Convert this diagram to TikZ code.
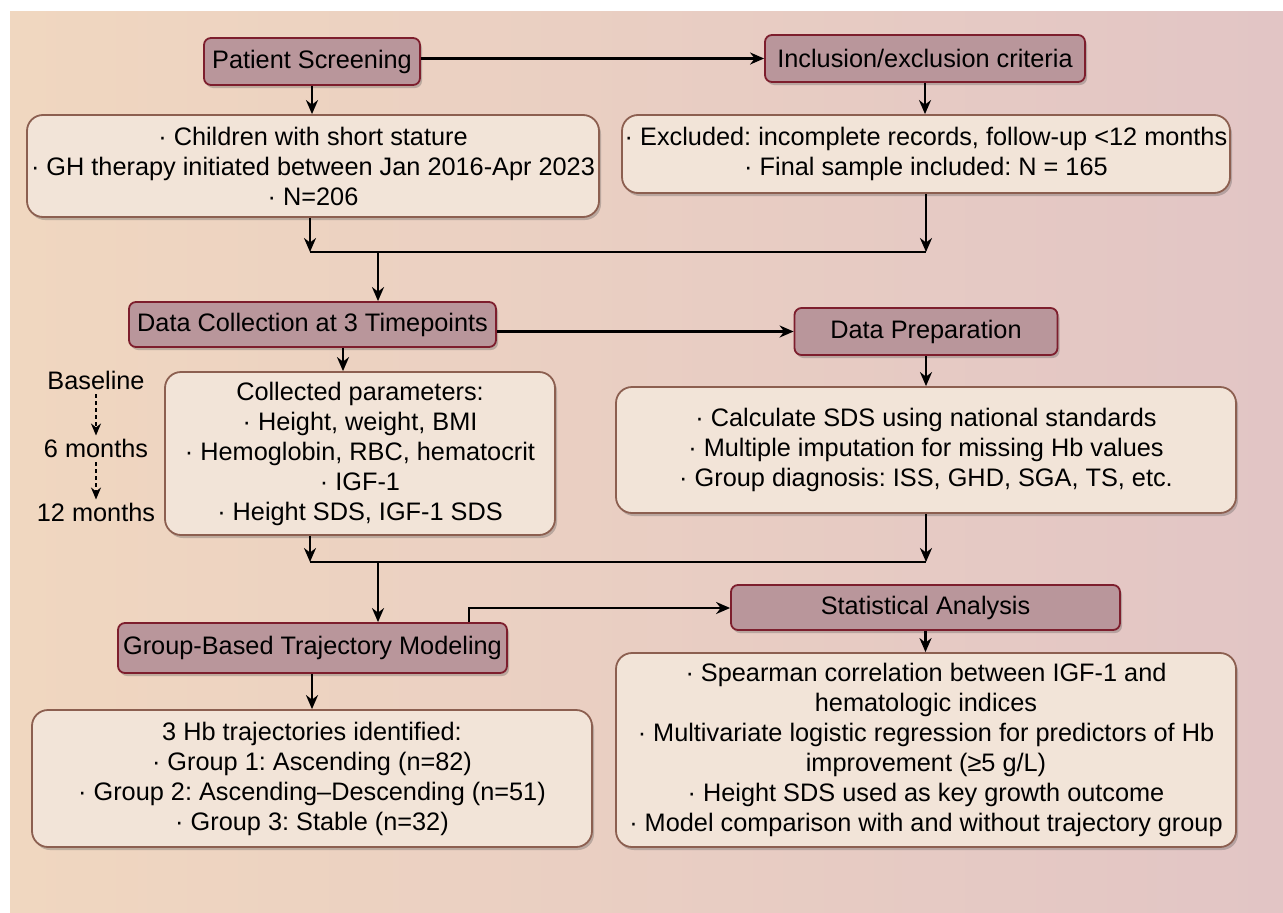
\documentclass[tikz,border=0pt]{standalone}
\usepackage{fontspec}
\setmainfont{Liberation Sans}
\usetikzlibrary{arrows.meta,shadows,calc}
\definecolor{bgL}{RGB}{240,215,192}
\definecolor{bgR}{RGB}{226,197,197}
\definecolor{hdrF}{RGB}{185,150,155}
\definecolor{hdrD}{RGB}{125,30,45}
\definecolor{boxF}{RGB}{242,228,216}
\definecolor{boxD}{RGB}{140,95,80}
\frenchspacing
\begin{document}
\begin{tikzpicture}[x=1pt,y=-1pt,
  txt/.style={font=\fontsize{25.3pt}{30pt}\selectfont\frenchspacing},
  hdr/.style={txt, draw=hdrD, fill=hdrF, line width=1.8pt, rounded corners=7pt, inner sep=0pt,
    drop shadow={shadow xshift=2pt, shadow yshift=-3pt, opacity=0.3, fill=black!70}},
  cbox/.style={txt, draw=boxD, fill=boxF, line width=1.8pt, rounded corners=16pt, inner sep=0pt, align=center,
    drop shadow={shadow xshift=2pt, shadow yshift=-3pt, opacity=0.3, fill=black!70}},
  arr/.style={line width=2.3pt, -{Stealth[length=14pt,width=12pt]}},
  ln/.style={line width=2.3pt},
  tlarr/.style={line width=1.8pt, dash pattern=on 4pt off 3pt, -{Stealth[length=12pt,width=10pt]}}
]
\useasboundingbox (0,0) rectangle (1283,913);
\shade[left color=bgL, right color=bgR] (10,11) rectangle (1283,913);

% header nodes
\node[hdr, minimum width=216pt, minimum height=47pt] (ps) at (312,61.5) {Patient Screening};
\node[hdr, minimum width=320pt, minimum height=47pt] (incl) at (925,58.5) {Inclusion/exclusion criteria};
\node[hdr, minimum width=367pt, minimum height=45pt] (dc) at (312.5,324.5) {Data Collection at 3 Timepoints};
\node[hdr, minimum width=263pt, minimum height=47pt] (dp) at (926,331.5) {Data Preparation};
\node[hdr, minimum width=389pt, minimum height=50pt] (gbtm) at (312.5,648) {Group-Based Trajectory Modeling};
\node[hdr, minimum width=389pt, minimum height=45pt] (stats) at (925.5,607.5) {Statistical Analysis};

% content boxes
\node[cbox, minimum width=572pt, minimum height=102pt] (b1) at (313,166)
  {· Children with short stature\\ · GH therapy initiated between Jan 2016-Apr 2023\\ · N=206};
\node[cbox, minimum width=608pt, minimum height=78pt] (b2) at (926,154)
  {· Excluded: incomplete records, follow-up <12 months\\ · Final sample included: N = 165};
\node[cbox, minimum width=390pt, minimum height=163pt] (b3) at (360,453.5)
  {Collected parameters:\\ · Height, weight, BMI\\ · Hemoglobin, RBC, hematocrit\\ · IGF-1\\ · Height SDS, IGF-1 SDS};
\node[cbox, minimum width=620pt, minimum height=126pt] (b4) at (926,450)
  {· Calculate SDS using national standards\\ · Multiple imputation for missing Hb values\\ · Group diagnosis: ISS, GHD, SGA, TS, etc.};
\node[cbox, minimum width=560pt, minimum height=137pt] (b5) at (312,778.5)
  {3 Hb trajectories identified:\\ · Group 1: Ascending (n=82)\\ · Group 2: Ascending–Descending (n=51)\\ · Group 3: Stable (n=32)};
\node[cbox, minimum width=620pt, minimum height=194pt] (b6) at (926,750)
  {· Spearman correlation between IGF-1 and\\ hematologic indices\\ · Multivariate logistic regression for predictors of Hb\\ improvement (≥5 g/L)\\ · Height SDS used as key growth outcome\\ · Model comparison with and without trajectory group};

% timeline labels
\node[txt, inner sep=0pt] (bl) at (96,380) {Baseline};
\node[txt, inner sep=0pt] (m6) at (96,448) {6 months};
\node[txt, inner sep=0pt] (m12) at (96,512) {12 months};
\draw[tlarr] ([yshift=-5pt]bl.south) -- ([yshift=3pt]m6.north);
\draw[tlarr] ([yshift=-5pt]m6.south) -- ([yshift=3pt]m12.north);

% junction coordinates
\coordinate (j1) at (310,252);
\coordinate (j2) at (926,252);
\coordinate (m1) at (378,252);
\coordinate (j3) at (310,562);
\coordinate (j4) at (926,562);
\coordinate (m2) at (378,562);
\coordinate (k1) at (469,608);

% connectors
\draw[arr] (ps.east |- incl.west) -- (incl.west);
\draw[arr] (ps.south) -- (ps.south |- b1.north);
\draw[arr] (incl.south) -- (incl.south |- b2.north);
\draw[arr] (b1.south -| j1) -- (j1);
\draw[arr] (b2.south -| j2) -- (j2);
\draw[ln] (j1) -- (j2);
\draw[arr] (m1) -- (m1 |- dc.north);
\draw[arr] (dc.east |- dp.west) -- (dp.west);
\draw[arr] (dp.south) -- (dp.south |- b4.north);
\draw[arr] (dc.south -| 343,0) -- (b3.north -| 343,0);
\draw[arr] (b3.south -| j3) -- (j3);
\draw[arr] (b4.south -| j4) -- (j4);
\draw[ln] (j3) -- (j4);
\draw[arr] (m2) -- (m2 |- gbtm.north);
\draw[arr] (gbtm.north -| k1) -- (k1) -- (stats.west |- k1);
\draw[arr] (gbtm.south -| b5.north) -- (b5.north);
\draw[arr] (stats.south) -- (stats.south |- b6.north);
\end{tikzpicture}
\end{document}
